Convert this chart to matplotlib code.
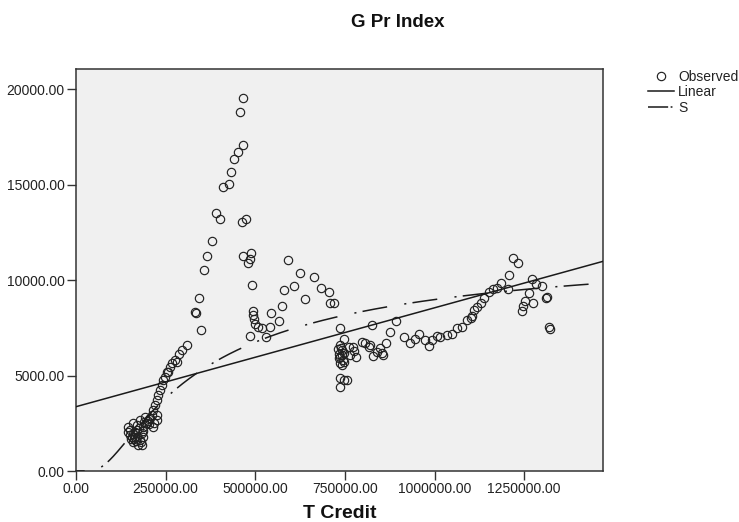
import matplotlib
matplotlib.use("Agg")
import matplotlib.pyplot as plt
from matplotlib.lines import Line2D
import numpy as np

plt.rcParams['font.family'] = ['Liberation Sans', 'DejaVu Sans']
plt.rcParams['lines.scale_dashes'] = False

# ---------------- data ----------------
t_credit = [
    146100, 146100, 150800, 150800, 153000, 155500, 158000, 160100, 160100, 162000,
    164800, 164800, 167000, 169500, 169500, 171000, 174100, 176000, 178800, 178800,
    181000, 183500, 183500, 186000, 188000, 188000, 190000, 192700, 197400, 200000,
    203000, 204700, 206700, 211400, 215900, 215900, 217900, 220600, 225400, 225400,
    227100, 229900, 234600, 239300, 243900, 248600, 253200, 257900, 262500, 267300,
    276500, 282900, 288600, 295200, 309200,
    331000, 333500, 344400, 349100, 357500, 365000, 379000, 391900, 402200, 410600,
    426500, 431000, 441300, 451600, 465600, 456200, 465600,
    462600, 474800, 465600, 487900, 484000, 479500,
    491600, 492500, 493500, 495200, 500000, 506400, 518600, 486000, 529800, 539900,
    543800, 567000, 574500, 581000, 590200, 608900, 625600, 637600, 662800, 683400,
    704700, 709400, 718700,
    737400, 746600, 735400, 729800, 742000, 732600, 748500, 737400, 744800, 735400,
    742000, 739000, 733000, 741000, 747000, 760600, 772800, 776500, 765300, 782000,
    737400, 746600, 756000, 737400,
    797900, 807200, 816400, 821100, 828600, 839800, 849000, 853800, 856700, 865800,
    825900, 877000, 893800,
    914200, 932900, 946800, 956100, 974800, 984100, 993400, 1007400, 1016700, 1035300,
    1049300, 1063200, 1077200, 1091100, 1100400, 1105100, 1109800, 1119100, 1128400,
    1137700, 1151600, 1163700, 1174900, 1184200, 1207500, 1204700, 1218600, 1233500,
    1270800, 1282000, 1300600, 1263300, 1251300, 1275500, 1242900, 1247600, 1314600,
    1311900, 1319300, 1322000,
]
g_pr_index = [
    2320, 2060, 2147, 1885, 1700, 1797, 1950, 2495, 1535, 1650,
    1797, 2060, 1550, 2147, 2408, 1800, 1361, 2250, 1623, 2670,
    1500, 1972, 1361, 2100, 2320, 1797, 2550, 2843, 2495, 2600,
    2450, 2705, 2757, 2932, 3194, 2320, 2495, 3456, 3716, 2670,
    2932, 3979, 4241, 4503, 4765, 4938, 5200, 5168, 5430, 5639,
    5812, 5723, 6126, 6336, 6597,
    8330, 8290, 9075, 7400, 10510, 11270, 12040, 13490, 13210, 14870,
    15030, 15640, 16320, 16720, 17070, 18813, 19515,
    13050, 13180, 11240, 11440, 11085, 10875,
    9723, 8393, 8168, 7943, 7700, 7556, 7472, 7069, 7000, 7556,
    8256, 7870, 8620, 9477, 11070, 9687, 10350, 9020, 10140, 9565,
    9357, 8780, 8780,
    7490, 6896, 6597, 6370, 6335, 6126, 6195, 5986, 5812, 5672,
    5550, 6450, 5900, 6050, 5700, 6475, 6510, 6300, 6091, 5953,
    4850, 4770, 4770, 4420,
    6772, 6686, 6510, 6597, 6021, 6245, 6423, 6161, 6074, 6686,
    7620, 7300, 7870,
    7030, 6720, 6894, 7173, 6859, 6562, 6859, 7069, 7034, 7122,
    7173, 7470, 7522, 7906, 7994, 8116, 8430, 8570, 8780,
    9041, 9390, 9512, 9565, 9826, 10262, 9512, 11135, 10873,
    10035, 9774, 9687, 9337, 8919, 8814, 8395, 8640, 9128,
    9040, 7557, 7435,
]

# fitted model coefficients
linear_intercept = 3367.0
linear_slope = 0.005179
s_b0 = 9.388
s_b1 = -285400.0

x_ticks = [0, 250000, 500000, 750000, 1000000, 1250000]
y_ticks = [0, 5000, 10000, 15000, 20000]
x_max = 1470000
y_max = 21030

# ---------------- figure ----------------
fig = plt.figure(figsize=(7.39, 5.22), dpi=100)
ax = fig.add_axes([0.1028, 0.0977, 0.7132, 0.7693])
ax.set_facecolor('#f0f0f0')

xs = np.linspace(1000, x_max, 600)
ax.plot(xs, linear_intercept + linear_slope * xs, color='#1a1a1a', lw=1.1, zorder=3)
ax.plot(xs, np.exp(s_b0 + s_b1 / xs), color='#1a1a1a', lw=1.1,
        linestyle=(12, (18, 12.5, 1.5, 4.5)), zorder=3)
ax.plot(t_credit, g_pr_index, 'o', ls='none', mfc='none', mec='#222222',
        ms=6.0, mew=0.85, zorder=2)

ax.set_xlim(0, x_max)
ax.set_ylim(0, y_max)
ax.set_xticks(x_ticks)
ax.set_yticks(y_ticks)
ax.set_xticklabels([f"{v:.2f}" for v in x_ticks])
ax.set_yticklabels([f"{v:.2f}" for v in y_ticks])
ax.tick_params(direction='out', length=6.5, width=1.0, color='#333333',
               labelsize=10, pad=1.5, labelcolor='#222222')
for s in ax.spines.values():
    s.set_color('#333333')
    s.set_linewidth(1.1)

fig.text(0.5386, 0.956, 'G Pr Index', ha='center', va='center',
         fontsize=13.5, fontweight='bold', color='#111111')
fig.text(0.4594, 0.0172, 'T Credit', ha='center', va='center',
         fontsize=14, fontweight='bold', color='#111111')

handles = [
    Line2D([], [], marker='o', ls='none', mfc='none', mec='#222222', ms=6.0, mew=0.85),
    Line2D([], [], color='#1a1a1a', lw=1.1),
    Line2D([], [], color='#1a1a1a', lw=1.1, linestyle=(0, (14.5, 1.8, 1.3, 20))),
]
fig.legend(handles, ['Observed', 'Linear', 'S'], loc='upper left',
           bbox_to_anchor=(0.877, 0.866), frameon=False, fontsize=10,
           handlelength=1.85, handletextpad=0.3, borderpad=0, borderaxespad=0,
           labelspacing=0.1, labelcolor='#222222')

fig.savefig('out.png', dpi=100)
